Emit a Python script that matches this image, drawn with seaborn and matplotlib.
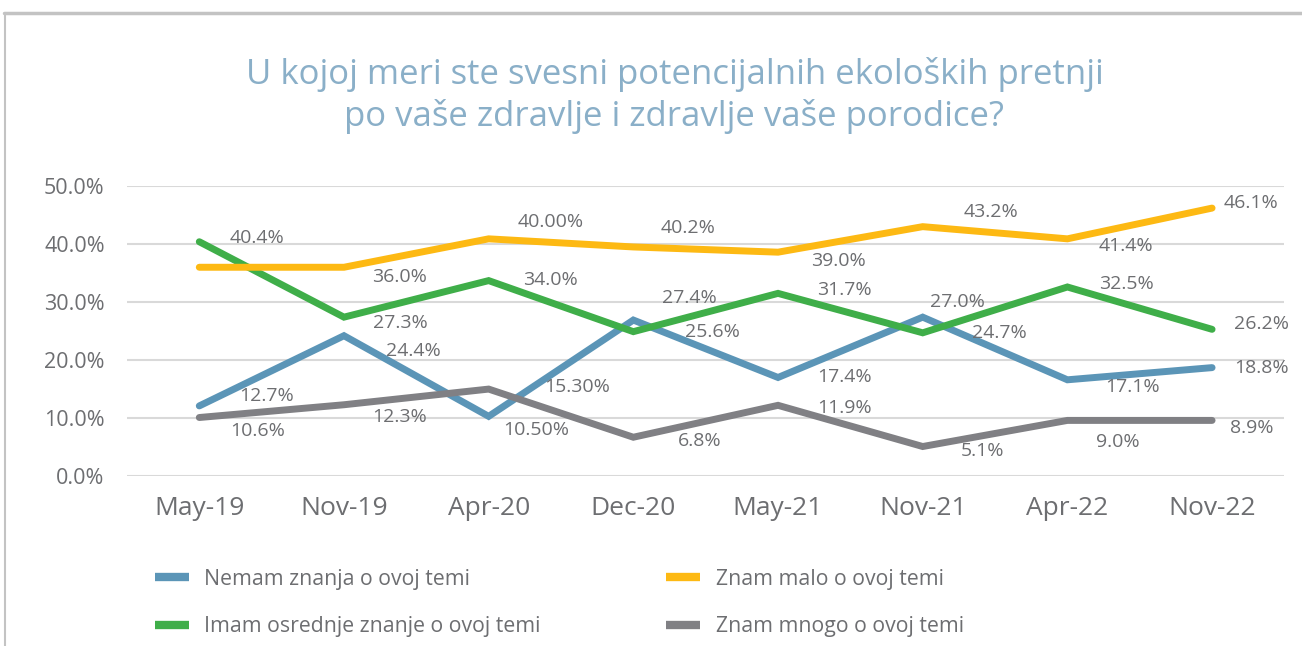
import matplotlib
matplotlib.use("Agg")
import matplotlib.pyplot as plt
import seaborn as sns
import pandas as pd
from matplotlib.lines import Line2D

periodi = ["May-19", "Nov-19", "Apr-20", "Dec-20", "May-21", "Nov-21", "Apr-22", "Nov-22"]

nemam = [12.1, 24.2, 10.3, 26.9, 17.0, 27.4, 16.6, 18.7]
malo = [36.0, 36.0, 40.9, 39.5, 38.6, 43.0, 40.9, 46.2]
osrednje = [40.4, 27.4, 33.7, 24.9, 31.5, 24.7, 32.6, 25.3]
mnogo = [10.1, 12.3, 15.0, 6.7, 12.2, 5.1, 9.6, 9.6]

# tekst oznaka kako stoji na slici
lab_nemam = ["12.7%", "24.4%", "10.50%", "27.4%", "17.4%", "27.0%", "17.1%", "18.8%"]
lab_malo = [None, "36.0%", "40.00%", "40.2%", "39.0%", "43.2%", "41.4%", "46.1%"]
lab_osrednje = ["40.4%", "27.3%", "34.0%", "25.6%", "31.7%", "24.7%", "32.5%", "26.2%"]
lab_mnogo = ["10.6%", "12.3%", "15.30%", "6.8%", "11.9%", "5.1%", "9.0%", "8.9%"]

serije = ["Nemam znanja o ovoj temi", "Imam osrednje znanje o ovoj temi",
          "Znam malo o ovoj temi", "Znam mnogo o ovoj temi"]
boje = ["#5b95b7", "#3fae49", "#fdb913", "#808084"]

# pomeraj oznaka u pikselima (dx, dy)
off_nemam = [(67, 10), (69, -15), (48, -14), (56, 22), (66, 0), (35, 15), (65, -7), (49, 0)]
off_malo = [None, (56, -10), (62, 17), (55, 19), (60, -9), (68, 15), (59, -7), (39, 5)]
off_osrednje = [(58, 4), (56, -6), (62, 1), (79, 0), (66, 3), (77, 0), (59, 3), (49, 5)]
off_mnogo = [(58, -13), (56, -12), (88, 2), (66, -4), (66, -3), (60, -4), (50, -22), (40, -8)]

df = pd.DataFrame({"Period": periodi * 4,
                   "Vrednost": nemam + osrednje + malo + mnogo,
                   "Serija": sum([[s] * len(periodi) for s in serije], [])})

sns.set_style("white")
plt.rcParams["font.family"] = ["Open Sans", "DejaVu Sans"]
siva = "#6d6e71"

fig = plt.figure(figsize=(13.02, 6.46), dpi=100)
ax = fig.add_axes([0.0975, 0.263, 0.889, 0.449])

sns.lineplot(data=df, x="Period", y="Vrednost", hue="Serija", hue_order=serije,
             palette=boje, linewidth=5, sort=False, ax=ax, legend=False,
             solid_capstyle="round", solid_joinstyle="miter")

ax.set_xlim(-0.5, 7.5)
ax.set_ylim(0, 50)
ax.set_yticks(range(0, 51, 10))
ax.set_yticklabels([f"{v:.1f}%" for v in range(0, 51, 10)])
ax.yaxis.grid(True, color="#d9d9d9", linewidth=1.5)
ax.set_axisbelow(True)
for s in ax.spines.values():
    s.set_visible(False)
ax.tick_params(axis="y", labelsize=15.5, colors=siva, pad=16, length=0)
ax.tick_params(axis="x", labelsize=19, colors=siva, pad=14, length=0)
ax.set_xlabel("")
ax.set_ylabel("")

for vals, labs, offs in [(nemam, lab_nemam, off_nemam), (malo, lab_malo, off_malo),
                         (osrednje, lab_osrednje, off_osrednje), (mnogo, lab_mnogo, off_mnogo)]:
    for i, (v, t, o) in enumerate(zip(vals, labs, offs)):
        if t is None:
            continue
        ax.annotate(t, (i, v), xytext=o, textcoords="offset pixels",
                    ha="center", va="center", fontsize=14, color=siva,
                    annotation_clip=False)

fig.text(0.518, 0.852, "U kojoj meri ste svesni potencijalnih ekoloških pretnji\npo vaše zdravlje i zdravlje vaše porodice?",
         ha="center", va="center", fontsize=25, color="#8aafc8", linespacing=1.27)

handles = [Line2D([0], [0], color=c, linewidth=6, solid_capstyle="butt") for c in boje]
fig.legend(handles, serije, loc="lower left", bbox_to_anchor=(0.104, -0.016), ncol=2,
           frameon=False, fontsize=15.3, labelcolor=siva, handlelength=1.6,
           columnspacing=5.9, labelspacing=1.25, handletextpad=0.75)

# okvir
fig.add_artist(Line2D([0.003, 1.0], [0.98, 0.98], color="#c3c3c3", linewidth=2.5, transform=fig.transFigure))
fig.add_artist(Line2D([0.004, 0.004], [0.0, 0.98], color="#c3c3c3", linewidth=1.5, transform=fig.transFigure))

fig.savefig("out.png", dpi=100)
